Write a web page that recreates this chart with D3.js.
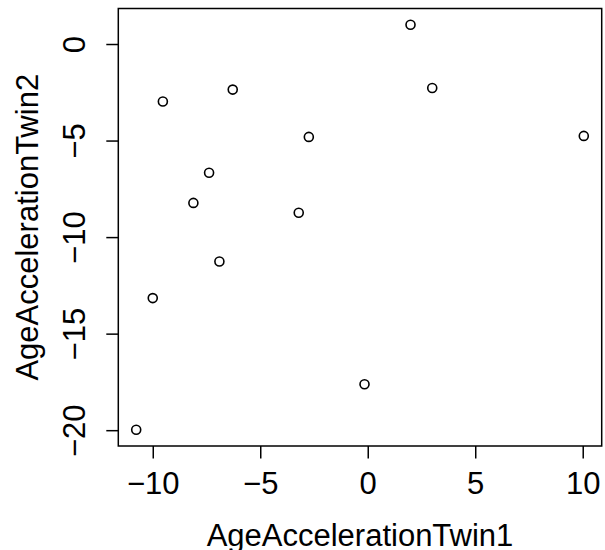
<!DOCTYPE html>
<html>
<head>
<meta charset="utf-8">
<script src="https://cdn.jsdelivr.net/npm/d3@7"></script>
<style>
  body { margin: 0; background: #fff; }
  svg text { font-family: "Liberation Sans", Arial, sans-serif; fill: #000; }
</style>
</head>
<body>
<svg id="chart" width="605" height="550"></svg>
<script>
// AgeAcceleration of each twin in a pair
const twin1 = [-10.77, -10.0, -9.53, -8.11, -7.38, -6.90, -6.28, -3.21, -2.74, -0.15, 1.99, 3.0, 10.05];
const twin2 = [-19.98, -13.16, -2.98, -8.23, -6.67, -11.26, -2.36, -8.74, -4.81, -17.62, 1.0, -2.28, -4.76];
const xTicks = [-10, -5, 0, 5, 10];
const yTicks = [-20, -15, -10, -5, 0];
const xLabel = "AgeAccelerationTwin1";
const yLabel = "AgeAccelerationTwin2";

const data = twin1.map((d, i) => ({ x: d, y: twin2[i] }));

let box = { left: 118.3, right: 601.7, top: 8.5, bottom: 446 };
const fontSize = 31;

// R style axis range: data range padded 4% each side
const xExt = d3.extent(twin1), yExt = d3.extent(twin2);
const xPad = 0.04 * (xExt[1] - xExt[0]), yPad = 0.04 * (yExt[1] - yExt[0]);

const x_scale = d3.scaleLinear().domain([xExt[0] - xPad, xExt[1] + xPad]).range([box.left, box.right]);
const y_scale = d3.scaleLinear().domain([yExt[0] - yPad, yExt[1] + yPad]).range([box.bottom, box.top]);

const svg = d3.select('#chart');

svg.append('rect')
  .attr('x', box.left)
  .attr('y', box.top)
  .attr('width', box.right - box.left)
  .attr('height', box.bottom - box.top)
  .attr('fill', 'none')
  .attr('stroke', '#000')
  .attr('stroke-width', 1.5);

const fmt = d3.format('');

const xAxis = svg.append('g')
  .attr('transform', `translate(0, ${box.bottom})`)
  .call(d3.axisBottom(x_scale).tickValues(xTicks).tickSize(12.5).tickFormat(fmt));
xAxis.select('.domain').remove();
xAxis.selectAll('line').attr('stroke-width', 1.5);
xAxis.selectAll('text')
  .attr('y', 47.5)
  .attr('dy', 0)
  .attr('font-size', fontSize)
  .attr('font-family', '"Liberation Sans", Arial, sans-serif');

const yAxis = svg.append('g')
  .attr('transform', `translate(${box.left}, 0)`)
  .call(d3.axisLeft(y_scale).tickValues(yTicks).tickSize(12).tickFormat(fmt));
yAxis.select('.domain').remove();
yAxis.selectAll('line').attr('stroke-width', 1.5);
yAxis.selectAll('text')
  .attr('x', 0)
  .attr('dy', 0)
  .attr('transform', 'translate(-33.3, 0) rotate(-90)')
  .attr('text-anchor', 'middle')
  .attr('font-size', fontSize)
  .attr('font-family', '"Liberation Sans", Arial, sans-serif');

svg.selectAll('.pt').data(data).join('circle')
  .attr('class', 'pt')
  .attr('cx', d => x_scale(d.x))
  .attr('cy', d => y_scale(d.y))
  .attr('r', 4.5)
  .attr('fill', 'none')
  .attr('stroke', '#000')
  .attr('stroke-width', 1.6);

svg.append('text')
  .attr('x', (box.left + box.right) / 2)
  .attr('y', 546)
  .attr('text-anchor', 'middle')
  .attr('font-size', fontSize)
  .text(xLabel);

svg.append('text')
  .attr('transform', `translate(37.5, ${(box.top + box.bottom) / 2}) rotate(-90)`)
  .attr('text-anchor', 'middle')
  .attr('font-size', fontSize)
  .text(yLabel);
</script>
</body>
</html>
